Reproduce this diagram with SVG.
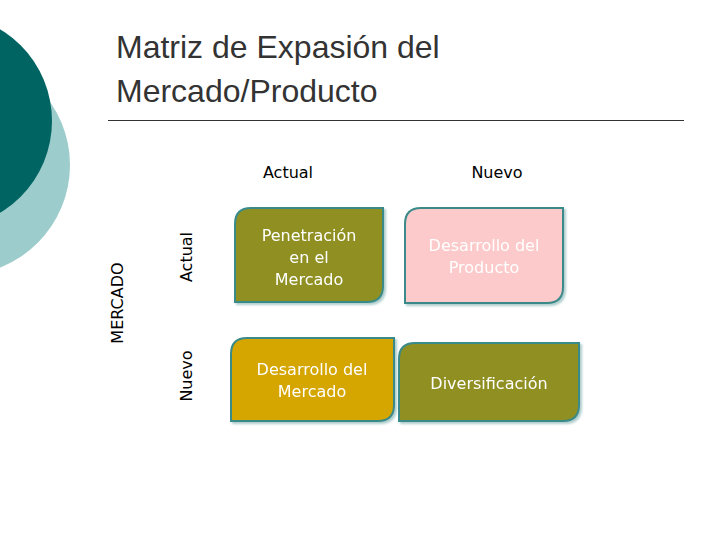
<svg xmlns="http://www.w3.org/2000/svg" width="720" height="540" viewBox="0 0 720 540">
<style>
.t{font-family:"DejaVu Sans",Verdana,sans-serif;font-size:16px;text-anchor:middle}
.b{stroke:#3a8a8a;stroke-width:2}
.w{fill:#ffffff}
</style>
<defs><filter id="s"><feDropShadow dx="2" dy="2" stdDeviation="1" flood-color="#7aa" flood-opacity="0.6"/></filter></defs>
<rect width="720" height="540" fill="#fff"/>
<circle cx="-40" cy="165" r="110" fill="#9ccccc"/>
<circle cx="-55" cy="121" r="107" fill="#006462"/>
<text x="116" y="58" font-family="Liberation Sans,Arial,sans-serif" font-size="32" fill="#333">Matriz de Expasión del</text>
<text x="116" y="102" font-family="Liberation Sans,Arial,sans-serif" font-size="32" fill="#333">Mercado/Producto</text>
<line x1="108" y1="120.5" x2="684" y2="120.5" stroke="#333" stroke-width="1"/>
<text class="t" x="288" y="178" fill="#000">Actual</text>
<text class="t" x="497" y="178" fill="#000">Nuevo</text>
<text class="t" transform="translate(123,303) rotate(-90)">MERCADO</text>
<text class="t" transform="translate(192,257) rotate(-90)">Actual</text>
<text class="t" transform="translate(192,376) rotate(-90)">Nuevo</text>
<g id="n1" filter="url(#s)"><path class="b" fill="#8f8f24" d="M251,208 H383 V286 Q383,302 367,302 H235 V224 Q235,208 251,208 Z"/>
<text class="t w" x="309" y="241">Penetración</text><text class="t w" x="309" y="263">en el</text><text class="t w" x="309" y="285">Mercado</text></g>
<g id="n2" filter="url(#s)"><path class="b" fill="#fccaca" d="M421,208 H563 V287 Q563,303 547,303 H405 V224 Q405,208 421,208 Z"/>
<text class="t w" x="484" y="251">Desarrollo del</text><text class="t w" x="484" y="273">Producto</text></g>
<g id="n3" filter="url(#s)"><path class="b" fill="#d5a500" d="M247,338 H394 V405 Q394,421 378,421 H231 V354 Q231,338 247,338 Z"/>
<text class="t w" x="312" y="375">Desarrollo del</text><text class="t w" x="312" y="397">Mercado</text></g>
<g id="n4" filter="url(#s)"><path class="b" fill="#8f8f24" d="M415,343 H579 V405 Q579,421 563,421 H399 V359 Q399,343 415,343 Z"/>
<text class="t w" x="489" y="389">Diversificación</text></g>
<g id="connectors"/>
</svg>
